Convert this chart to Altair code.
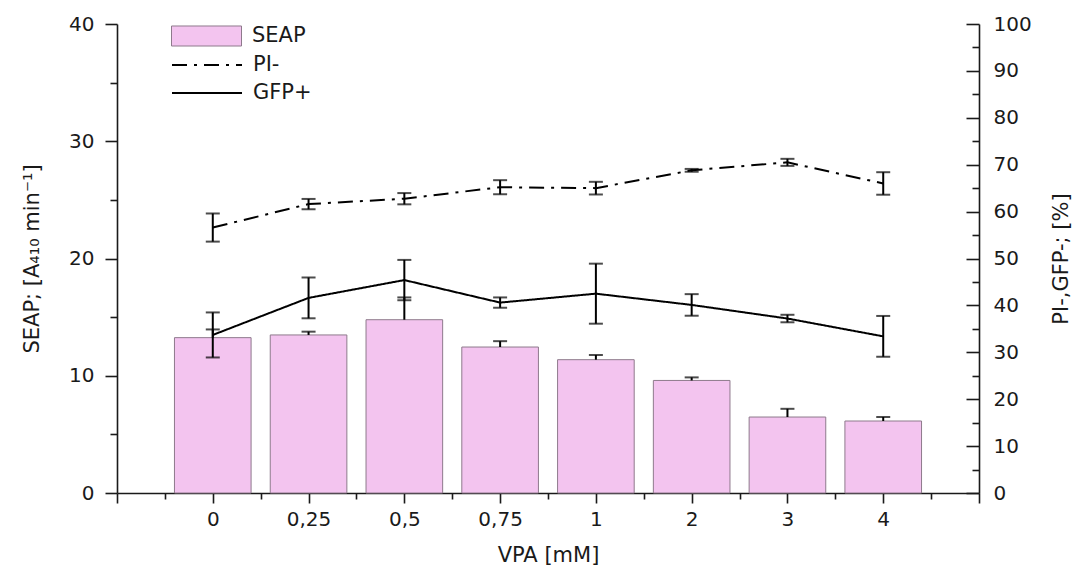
import json
import altair as alt
import pandas as pd

# ---- data ----
labels = ["0", "0,25", "0,5", "0,75", "1", "2", "3", "4"]
seap = [13.25, 13.48, 14.78, 12.45, 11.37, 9.6, 6.48, 6.14]
seap_err = [0.7, 0.28, 1.9, 0.5, 0.4, 0.26, 0.7, 0.34]
pi_minus = [56.6, 61.6, 62.75, 65.2, 65.0, 68.8, 70.5, 66.0]
pi_err = [3.0, 1.1, 1.2, 1.5, 1.35, 0.3, 0.75, 2.4]
gfp_plus = [33.7, 41.6, 45.4, 40.6, 42.5, 40.1, 37.2, 33.4]
gfp_err = [4.8, 4.35, 4.3, 1.1, 6.4, 2.3, 0.8, 4.35]

left_major = [0, 10, 20, 30, 40]
left_minor = [5, 15, 25, 35]
right_major = list(range(0, 101, 10))
right_minor = list(range(5, 100, 10))

idx = list(range(len(labels)))
x_major = list(range(-1, len(labels) + 1))
x_minor = [i - 0.5 for i in range(len(labels) + 1)]

bars_df = pd.DataFrame({"idx": idx, "label": labels, "seap": seap, "err": seap_err,
                        "bar_series": ["SEAP"] * len(labels)})
lines_df = pd.concat([
    pd.DataFrame({"idx": idx, "value": pi_minus, "err": pi_err, "line_series": ["PI-"] * len(idx)}),
    pd.DataFrame({"idx": idx, "value": gfp_plus, "err": gfp_err, "line_series": ["GFP+"] * len(idx)}),
])

FONT = "DejaVu Sans"
INK = "#1a1a1a"
PINK = "#F3C4EF"
BAR_EDGE = "#8E7A8C"
LBL = 20
TTL = 21

XS = alt.Scale(domain=[-1, len(labels)], nice=False, zero=False)
YL = alt.Scale(domain=[0, 40], nice=False, zero=False)
YR = alt.Scale(domain=[0, 100], nice=False, zero=False)

label_expr = ("(datum.value >= 0 && datum.value <= %d && datum.value == floor(datum.value)) ? %s[datum.value] : ''"
              % (len(labels) - 1, json.dumps(labels)))

x_axis_major = alt.Axis(orient="bottom", values=x_major, tickSize=10, labelExpr=label_expr, labelPadding=6,
                        labelFontSize=LBL, title="VPA [mM]", titleFontSize=TTL, titlePadding=15,
                        titleFontWeight="normal", domainWidth=1.6, tickWidth=1.6)
x_axis_minor = alt.Axis(orient="bottom", values=x_minor, tickSize=6, labels=False, domain=False, title=None,
                        tickWidth=1.6)

y_left_major = alt.Axis(orient="left", values=left_major, tickSize=12, labelPadding=11,
                        labelFontSize=LBL, title="SEAP; [A₄₁₀ min⁻¹]", titleFontSize=TTL,
                        titleFontWeight="normal", titlePadding=26, domainWidth=1.6, tickWidth=1.6)
y_left_minor = alt.Axis(orient="left", values=left_minor, tickSize=7, labels=False, domain=False,
                        title=None, tickWidth=1.6)

y_right_main = alt.Axis(orient="right", values=right_major, ticks=False, tickSize=0, labelPadding=14,
                        labelFontSize=LBL, title="PI-,GFP-; [%]", titleFontSize=TTL, titleAngle=270,
                        titleFontWeight="normal", titlePadding=40, domainWidth=1.6)
y_right_ticks = alt.Axis(orient="right", values=right_major, tickSize=13, offset=-13, labels=False,
                         domain=False, title=None, tickWidth=1.6)
y_right_minor = alt.Axis(orient="right", values=right_minor, tickSize=7, offset=-7, labels=False,
                         domain=False, title=None, tickWidth=1.6)

bar_legend = alt.Legend(orient="none", legendX=54, legendY=-2, title=None, padding=0,
                        symbolType="M-1,-0.286H1V0.286H-1Z", symbolSize=4900,
                        symbolStrokeColor=BAR_EDGE, symbolStrokeWidth=1, symbolFillColor=PINK,
                        labelFontSize=TTL, labelOffset=10, clipHeight=28, rowPadding=0,
                        labelFont=FONT, labelColor=INK)
line_legend = alt.Legend(orient="none", legendX=54, legendY=27, title=None, padding=0,
                         symbolType="stroke", symbolSize=4900, symbolStrokeColor="black",
                         symbolStrokeWidth=2, labelFontSize=TTL, labelOffset=10, clipHeight=28,
                         rowPadding=0, labelFont=FONT, labelColor=INK)

base_b = alt.Chart(bars_df)
bars = base_b.transform_calculate(x0="datum.idx - 0.4", x1="datum.idx + 0.4").mark_rect(
    stroke=BAR_EDGE, strokeWidth=1
).encode(
    x=alt.X("x0:Q", scale=XS, axis=x_axis_major),
    x2="x1:Q",
    y=alt.Y("seap:Q", scale=YL, axis=y_left_major),
    y2=alt.datum(0),
    color=alt.Color("bar_series:N", scale=alt.Scale(domain=["SEAP"], range=[PINK]), legend=bar_legend),
)

bar_err = base_b.transform_calculate(hi="datum.seap + datum.err").mark_rule(
    color="black", strokeWidth=2
).encode(
    x=alt.X("idx:Q", scale=XS, axis=x_axis_minor),
    y=alt.Y("seap:Q", scale=YL, axis=y_left_minor),
    y2="hi:Q",
)
bar_cap = base_b.transform_calculate(hi="datum.seap + datum.err").mark_tick(
    color="black", orient="horizontal", size=14, thickness=2
).encode(
    x=alt.X("idx:Q", scale=XS, axis=None),
    y=alt.Y("hi:Q", scale=YL, axis=None),
)

base_l = alt.Chart(lines_df)
lines = base_l.mark_line(color="black", strokeWidth=2).encode(
    x=alt.X("idx:Q", scale=XS, axis=None),
    y=alt.Y("value:Q", scale=YR, axis=y_right_main),
    strokeDash=alt.StrokeDash("line_series:N",
                              scale=alt.Scale(domain=["PI-", "GFP+"], range=[[15, 7, 3, 7], [1, 0]]),
                              legend=line_legend),
)
line_err = base_l.transform_calculate(lo="datum.value - datum.err", hi="datum.value + datum.err").mark_rule(
    color="black", strokeWidth=2
).encode(
    x=alt.X("idx:Q", scale=XS, axis=None),
    y=alt.Y("lo:Q", scale=YR, axis=y_right_ticks),
    y2="hi:Q",
)
line_cap = base_l.transform_fold(["lo", "hi"], as_=["end", "pos"]).transform_calculate(
    lo="datum.value - datum.err", hi="datum.value + datum.err"
).transform_calculate(ypos="datum.end == 'lo' ? datum.lo : datum.hi").mark_tick(
    color="black", orient="horizontal", size=14, thickness=2
).encode(
    x=alt.X("idx:Q", scale=XS, axis=None),
    y=alt.Y("ypos:Q", scale=YR, axis=y_right_minor),
)

chart = alt.layer(bars, bar_err, bar_cap, lines, line_err, line_cap).resolve_scale(
    y="independent"
).resolve_axis(x="independent", y="independent").properties(
    width=862, height=469, autosize="none",
    padding={"left": 117, "top": 24, "right": 104, "bottom": 75},
).configure_axis(
    labelFont=FONT, titleFont=FONT, labelColor=INK, titleColor=INK,
    domainColor=INK, tickColor=INK, grid=False,
).configure_view(strokeWidth=0)

chart.save("out.html", embed_options={"renderer": "svg", "actions": False})
